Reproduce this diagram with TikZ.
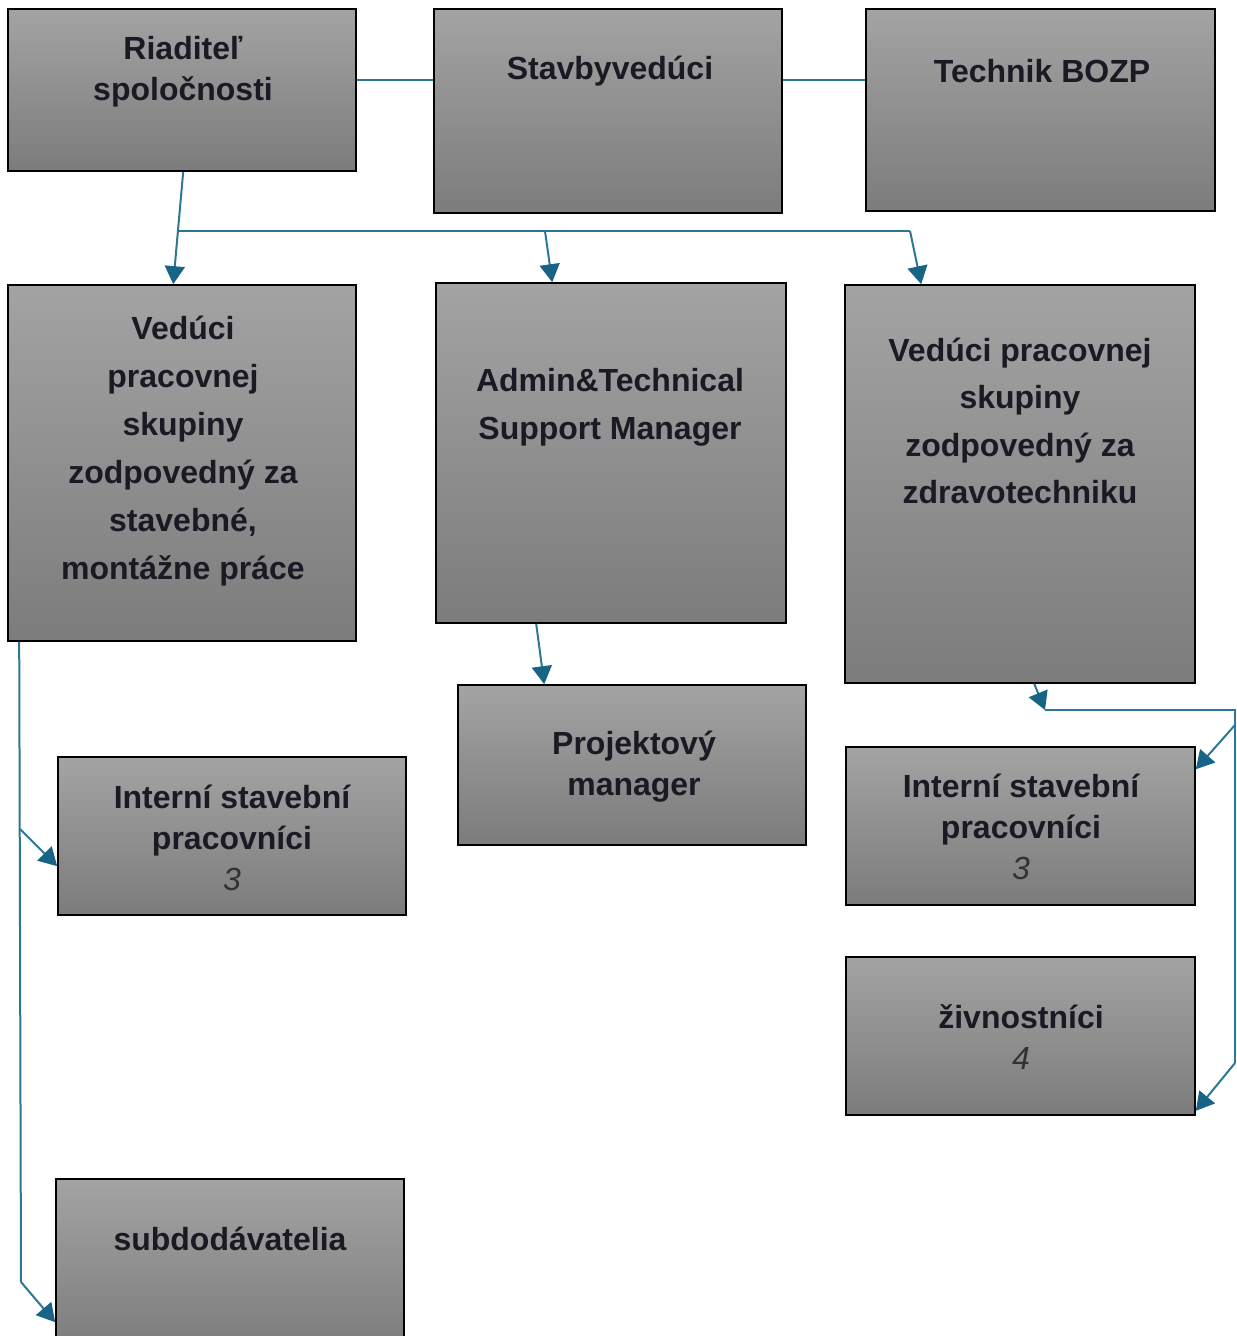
\documentclass[tikz,border=0pt]{standalone}
\usepackage{fontspec}
\setmainfont{Liberation Sans}
\usetikzlibrary{arrows.meta,calc,fit}
\definecolor{boxtop}{RGB}{163,163,163}
\definecolor{boxbot}{RGB}{124,124,124}
\definecolor{conncol}{RGB}{44,118,152}
\definecolor{headcol}{RGB}{24,100,135}
\definecolor{txtcol}{RGB}{26,26,36}
\definecolor{numcol}{RGB}{50,50,50}
\tikzset{
  box/.style={draw=black, line width=0.8pt, top color=boxtop, bottom color=boxbot, inner sep=0pt},
  lbl/.style={text=txtcol, align=center, font=\fontsize{16}{#1}\selectfont\bfseries},
  lbl/.default=20.5pt,
  conn/.style={draw=conncol, line width=1pt},
  arr/.style={conn, -{Triangle[length=9pt,width=10pt,color=headcol,fill=headcol]}},
}
\newcommand{\numtxt}[1]{{\mdseries\itshape\color{numcol}#1}}
\begin{document}
\begin{tikzpicture}[x=0.5pt,y=-0.5pt]
\useasboundingbox (0,0) rectangle (1236,1336);
% boxes
\node[box, fit={(8,9) (356,171)}] (r1) {};
\node[box, fit={(434,9) (782,213)}] (sv) {};
\node[box, fit={(866,9) (1215,211)}] (tb) {};
\node[box, fit={(8,285) (356,641)}] (lt) {};
\node[box, fit={(436,283) (786,623)}] (ad) {};
\node[box, fit={(845,285) (1195,683)}] (rt) {};
\node[box, fit={(58,757) (406,915)}] (il) {};
\node[box, fit={(458,685) (806,845)}] (pm) {};
\node[box, fit={(846,747) (1195,905)}] (ir) {};
\node[box, fit={(846,957) (1195,1115)}] (zv) {};
\node[box, fit={(56,1179) (404,1350)}] (sd) {};
% texts
\node[lbl] (t1) at (183,72) {Riaditeľ\\spoločnosti};
\node[lbl] (t2) at (610,71) {Stavbyvedúci};
\node[lbl] (t3) at (1042,71) {Technik BOZP};
\node[lbl=24pt] (t4) at (183,451) {Vedúci\\pracovnej\\skupiny\\zodpovedný za\\stavebné,\\montážne práce};
\node[lbl=24pt] (t5) at (610,407) {Admin\&Technical\\Support Manager};
\node[lbl=23.7pt] (t6) at (1020,421) {Vedúci pracovnej\\skupiny\\zodpovedný za\\zdravotechniku};
\node[lbl] (t7) at (232,838) {Interní stavební\\pracovníci\\\numtxt{3}};
\node[lbl] (t8) at (634,767) {Projektový\\manager};
\node[lbl] (t9) at (1021,827) {Interní stavební\\pracovníci\\\numtxt{3}};
\node[lbl] (t10) at (1021,1037) {živnostníci\\\numtxt{4}};
\node[lbl] (t11) at (230,1239) {subdodávatelia};
% junction coordinates
\coordinate (h1) at (179,231);
\coordinate (h2) at (545,231);
\coordinate (h3) at (910,231);
\coordinate (v1) at (20,829);
\coordinate (v2) at (21,1282);
\coordinate (g1) at (1045,710);
\coordinate (g2) at (1235,710);
\coordinate (g3) at (1235,725);
\coordinate (g4) at (1235,1063);
% connectors
\draw[conn] ($(r1.north east)+(0,72)$) -- ($(sv.north west)+(0,72)$);
\draw[conn] ($(sv.north east)+(0,72)$) -- ($(tb.north west)+(0,72)$);
\draw[arr] ($(r1.south west)+(176,0)$) -- ($(lt.north west)+(166,0)$);
\draw[conn] (h1) -- (h3);
\draw[arr] (h2) -- ($(ad.north west)+(117,0)$);
\draw[arr] (h3) -- ($(rt.north west)+(77,0)$);
\draw[arr] ($(ad.south west)+(101,0)$) -- ($(pm.north west)+(87,0)$);
\draw[conn] ($(lt.south west)+(12,0)$) -- (v2);
\draw[arr] (v1) -- ($(il.north west)+(0,110)$);
\draw[arr] (v2) -- ($(sd.north west)+(0,144)$);
\draw[arr] ($(rt.south west)+(190,0)$) -- (g1);
\draw[conn] (g1) -- (g2) -- (g4);
\draw[arr] (g3) -- ($(ir.north east)+(0,23)$);
\draw[arr] (g4) -- ($(zv.south east)+(0,-5)$);
\end{tikzpicture}
\end{document}
